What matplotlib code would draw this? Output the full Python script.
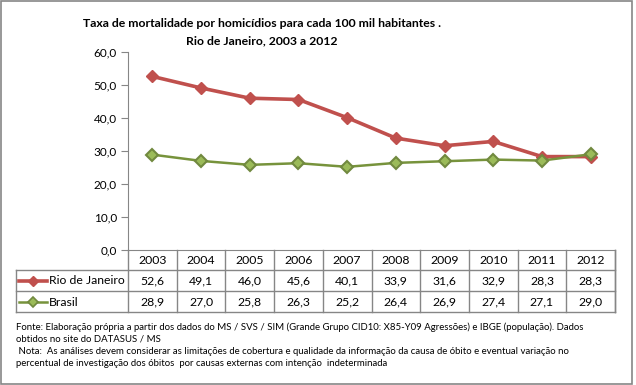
import numpy as np
import matplotlib.pyplot as plt
from matplotlib.transforms import blended_transform_factory
from matplotlib.lines import Line2D
from matplotlib.patches import Rectangle

plt.rcParams['font.family'] = ['Lato', 'DejaVu Sans']

years = ['2003', '2004', '2005', '2006', '2007', '2008', '2009', '2010', '2011', '2012']
rio = [52.6, 49.1, 46.0, 45.6, 40.1, 33.9, 31.6, 32.9, 28.3, 28.3]
brasil = [28.9, 27.0, 25.8, 26.3, 25.2, 26.4, 26.9, 27.4, 27.1, 29.0]
series_names = ['Rio de Janeiro', 'Brasil']
yticks = [0, 10, 20, 30, 40, 50, 60]

title = 'Taxa de mortalidade por homicídios para cada 100 mil habitantes .\nRio de Janeiro, 2003 a 2012'
notes = [
    'Fonte: Elaboração própria a partir dos dados do MS / SVS / SIM (Grande Grupo CID10: X85-Y09 Agressões) e IBGE (população). Dados',
    'obtidos no site do DATASUS / MS',
    ' Nota:  As análises devem considerar as limitações de cobertura e qualidade da informação da causa de óbito e eventual variação no',
    'percentual de investigação dos óbitos  por causas externas com intenção  indeterminada',
]

W, H = 636, 385
fig = plt.figure(figsize=(W / 100, H / 100), dpi=100)
grey = '#868686'

# plot area in pixels
x0, x1, ytop, ybot = 128, 615, 52, 250
ax = fig.add_axes([x0 / W, 1 - ybot / H, (x1 - x0) / W, (ybot - ytop) / H])

red = '#C0504D'
green_line = '#77933C'
green_face = '#9BBB59'
green_edge = '#71893F'
xs = np.arange(len(years))
ax.plot(xs, rio, color=red, lw=2.6, marker='D', ms=6, mfc=red, mec=red, clip_on=False, zorder=3)
ax.plot(xs, brasil, color=green_line, lw=1.8, marker='D', ms=6.5, mfc=green_face, mec=green_edge, mew=1.5,
        clip_on=False, zorder=3)

ax.set_xlim(-0.5, len(years) - 0.5)
ax.set_ylim(0, 60)
ax.set_yticks(yticks)
ax.set_yticklabels([f'{v:.1f}'.replace('.', ',') for v in yticks], fontsize=8.5)
ax.set_xticks([])
for s in ['top', 'right']:
    ax.spines[s].set_visible(False)
ax.spines['left'].set_color(grey)
ax.spines['bottom'].set_color(grey)
ax.tick_params(axis='y', length=5, color=grey, pad=3)

# data table under the chart
trans = blended_transform_factory(ax.transData, fig.transFigure)
ftrans = fig.transFigure
def fy(py):
    return 1 - py / H

row_tops = [250, 270, 291, 312]
fs = 8.8
for i, yr in enumerate(years):
    ax.text(i, fy(260), yr, transform=trans, ha='center', va='center', fontsize=fs)
    ax.text(i, fy(281), f'{rio[i]:.1f}'.replace('.', ','), transform=trans, ha='center', va='center', fontsize=fs)
    ax.text(i, fy(302), f'{brasil[i]:.1f}'.replace('.', ','), transform=trans, ha='center', va='center', fontsize=fs)
    xb = i + 0.5
    fig.add_artist(Line2D([xb, xb], [fy(250), fy(312)], transform=trans, color=grey, lw=1))

fig.add_artist(Line2D([x0 / W, x0 / W], [fy(250), fy(312)], transform=ftrans, color=grey, lw=1))
fig.add_artist(Line2D([16 / W, 16 / W], [fy(270), fy(312)], transform=ftrans, color=grey, lw=1))
for py in row_tops[1:]:
    fig.add_artist(Line2D([16 / W, x1 / W], [fy(py), fy(py)], transform=ftrans, color=grey, lw=1))
fig.add_artist(Line2D([x1 / W, x1 / W], [fy(250), fy(312)], transform=ftrans, color=grey, lw=1))

# legend keys in the row labels
fig.add_artist(Line2D([19 / W, 47 / W], [fy(281), fy(281)], transform=ftrans, color=red, lw=2.6))
fig.add_artist(Line2D([33 / W], [fy(281)], transform=ftrans, marker='D', ms=5, mfc=red, mec=red, lw=0))
fig.add_artist(Line2D([19 / W, 47 / W], [fy(302), fy(302)], transform=ftrans, color=green_line, lw=1.8))
fig.add_artist(Line2D([33 / W], [fy(302)], transform=ftrans, marker='D', ms=5.5, mfc=green_face,
                      mec=green_edge, mew=1.2, lw=0))
fig.text(49 / W, fy(281), series_names[0], ha='left', va='center', fontsize=fs)
fig.text(49 / W, fy(302), series_names[1], ha='left', va='center', fontsize=fs)

# title
fig.text(262 / W, fy(32), title, ha='center', va='center', fontsize=8.8, fontweight='bold', linespacing=1.65)

# footnotes
for py, line in zip([327, 339, 352, 364], notes):
    fig.text(16 / W, fy(py), line, ha='left', va='center', fontsize=6.95)

# outer border
fig.add_artist(Rectangle((1 / W, 1 / H), 631 / W, (H - 2) / H, transform=ftrans, fill=False,
                         edgecolor=grey, lw=1.2))

fig.savefig('out.png', dpi=100)
